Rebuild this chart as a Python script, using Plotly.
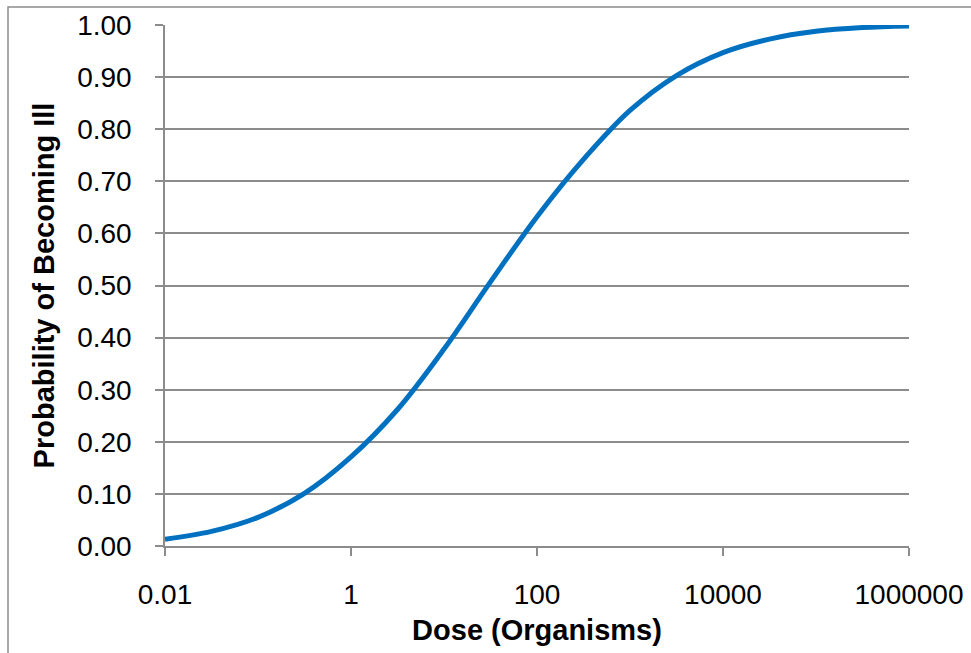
import plotly.graph_objects as go

dose = [0.01, 0.0316, 0.1, 0.316, 1, 3.16, 10, 31.6, 100, 316, 1000, 3160,
        10000, 31600, 100000, 316000, 1000000]
prob = [0.013, 0.028, 0.055, 0.101, 0.171, 0.262, 0.378, 0.507, 0.632,
        0.742, 0.836, 0.903, 0.947, 0.973, 0.988, 0.995, 0.998]

x_tickvals = [0.01, 1, 100, 10000, 1000000]
x_ticktext = ["0.01", "1", "100", "10000", "1000000"]

GRID = "#8c8c8c"
FONT = "Liberation Sans, Arial, sans-serif"

fig = go.Figure()
fig.add_trace(go.Scatter(
    x=dose, y=prob, mode="lines",
    line=dict(color="#0070C0", width=5, shape="spline", smoothing=1.0),
    hoverinfo="x+y", showlegend=False,
))

fig.update_layout(
    width=971, height=653,
    margin=dict(l=165, r=62, t=25, b=107),
    paper_bgcolor="white", plot_bgcolor="white",
    font=dict(family=FONT, size=28, color="black"),
    xaxis=dict(
        type="log", range=[-2, 6], automargin=False,
        tickvals=x_tickvals, ticktext=x_ticktext,
        showgrid=False, zeroline=False,
        showline=True, linecolor=GRID, linewidth=1.5,
        ticks="outside", ticklen=8, tickwidth=1.5, tickcolor=GRID,
        ticklabelstandoff=15,
        tickfont=dict(family=FONT, size=28, color="black"),
        title=dict(text="<b>Dose (Organisms)</b>", standoff=10,
                   font=dict(family=FONT, size=29, color="black")),
    ),
    yaxis=dict(
        range=[0, 1], dtick=0.1, tick0=0, tickformat=".2f", automargin=False,
        showgrid=True, gridcolor=GRID, gridwidth=1.5,
        zeroline=False,
        showline=True, linecolor=GRID, linewidth=1.5,
        ticks="outside", ticklen=8, tickwidth=1.5, tickcolor=GRID,
        ticklabelstandoff=18,
        tickfont=dict(family=FONT, size=28, color="black"),
        title=dict(text="<b>Probability of Becoming Ill</b>", standoff=14,
                   font=dict(family=FONT, size=29, color="black")),
    ),
    shapes=[dict(
        type="rect", xref="paper", yref="paper",
        x0=(8 - 165) / 744, x1=1.3, y0=-0.4, y1=(546 - 7) / 521,
        line=dict(color=GRID, width=1.5), fillcolor="rgba(0,0,0,0)",
        layer="below",
    )],
)

fig.write_html("out.html")
